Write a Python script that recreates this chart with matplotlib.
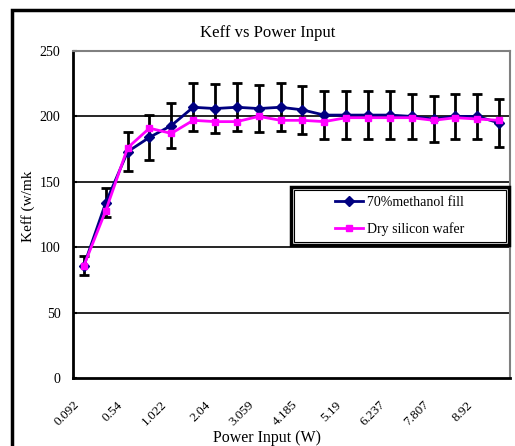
import numpy as np
import matplotlib.pyplot as plt
import matplotlib.transforms as mtransforms
from matplotlib.patches import Rectangle

# データ
TICK_LABELS = ['0.092', '0.54', '1.022', '2.04', '3.059', '4.185', '5.19', '6.237', '7.807', '8.92']
METHANOL = [86, 134, 173, 184, 193, 207, 206, 207, 206, 207,
            205, 201, 201, 201, 201, 200, 198, 200, 200, 195]
DRY = [86, 128, 176, 191, 187, 197, 196, 196, 200, 197,
       197, 196, 199, 199, 199, 199, 197, 199, 198, 197]
ERR = [7, 11, 15, 17, 17.5, 18.5, 18.5, 18.5, 18, 18.5,
       18.5, 18.5, 18.5, 18.5, 18.5, 17, 17.5, 17, 17, 18.5]

plt.rcParams['font.family'] = ['Liberation Serif', 'DejaVu Serif']

W, H = 515, 446
fig = plt.figure(figsize=(W / 100, H / 100), dpi=100)
ax = fig.add_axes([73 / W, 1 - 378 / H, 437 / W, 327 / H])

x = np.arange(len(METHANOL))

# 誤差棒（メタノール側）
ax.errorbar(x, METHANOL, yerr=ERR, fmt='none', ecolor='black',
            elinewidth=2, capsize=3.5, capthick=2, zorder=2)
ax.plot(x, METHANOL, color='#000080', lw=2, marker='D', ms=5,
        label='70%methanol fill', zorder=3)
ax.plot(x, DRY, color='#FF00FF', lw=2, marker='s', ms=5,
        label='Dry silicon wafer', zorder=3)

ax.set_xlim(-0.5, len(METHANOL) - 0.5)
ax.set_ylim(0, 250)
ax.set_yticks([0, 50, 100, 150, 200, 250])
ax.set_xticks(x[::2])
ax.set_xticklabels(TICK_LABELS, rotation=45, ha='right', rotation_mode='anchor',
                   fontsize=9.5)
ax.tick_params(axis='y', labelsize=10, direction='in', length=3, width=1.5, pad=9)
ax.tick_params(axis='x', length=0, pad=15)
shift = mtransforms.ScaledTranslation(-11 / 100, 0, fig.dpi_scale_trans)
for lab in ax.get_xticklabels():
    lab.set_transform(lab.get_transform() + shift)

for v in [50, 100, 150, 200]:
    ax.axhline(v, color='black', lw=1.2, zorder=1)

for s in ['top', 'right']:
    ax.spines[s].set_color('gray')
    ax.spines[s].set_linewidth(1.5)
for s in ['left', 'bottom']:
    ax.spines[s].set_color('black')
    ax.spines[s].set_linewidth(2)

fig.text(28 / W, 1 - 206 / H, 'Keff (w/mk', rotation=90, ha='center', va='center', fontsize=11)
fig.text(267 / W, 1 - 438 / H, 'Power Input (W)', ha='center', va='center', fontsize=11.5)
fig.text(268 / W, 1 - 33 / H, 'Keff vs Power Input', ha='center', va='center', fontsize=12)

# 凡例（枠は手描き）
lx0, lx1, ly0, ly1 = 291, 509, 187, 245
leg = ax.legend(loc='center', bbox_to_anchor=(((lx0 + lx1) / 2 - 73) / 437,
                                               (378 - (ly0 + ly1) / 2) / 327),
                frameon=False, fontsize=10, handlelength=2.0, handletextpad=0.3,
                labelspacing=1.0)
leg.set_zorder(7)
ax.add_patch(Rectangle((lx0 / W, 1 - ly1 / H), (lx1 - lx0) / W, (ly1 - ly0) / H,
                       transform=fig.transFigure, fill=True, fc='white',
                       ec='black', lw=2.5, zorder=5, clip_on=False))
ax.add_patch(Rectangle(((lx0 + 3) / W, 1 - (ly1 - 3) / H), (lx1 - lx0 - 6) / W,
                       (ly1 - ly0 - 6) / H, transform=fig.transFigure,
                       fill=False, ec='black', lw=0.8, zorder=5, clip_on=False))

# 外枠
fig.patches.append(Rectangle((12 / W, -0.05), 1.1, 1 - 10 / H + 0.05,
                             transform=fig.transFigure, fill=False,
                             ec='black', lw=2.5))

fig.savefig('out.png', dpi=100)
